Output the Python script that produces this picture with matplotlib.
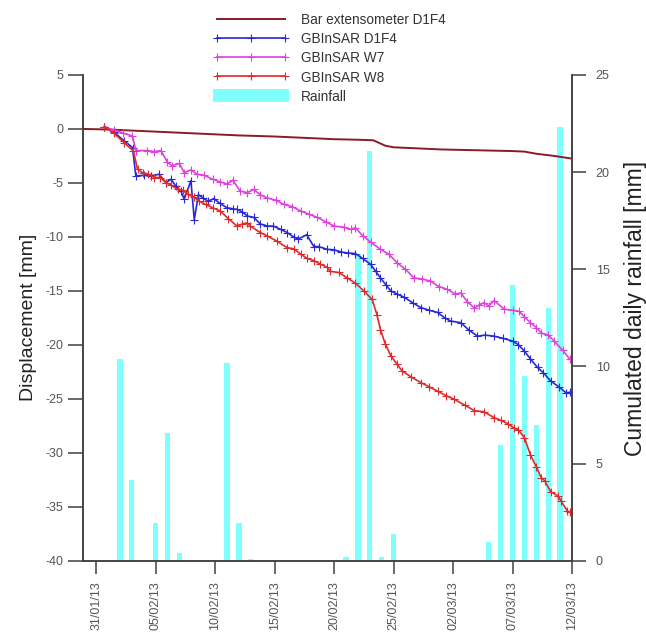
import numpy as np
import pandas as pd
import matplotlib
matplotlib.use("Agg")
import matplotlib.pyplot as plt
import matplotlib.dates as mdates
from datetime import datetime, timedelta

plt.rcParams['font.family'] = ['Liberation Sans', 'DejaVu Sans']
plt.rcParams['axes.unicode_minus'] = False

# days counted from 31/01/13 00:00
BASE = datetime(2013, 1, 31)

ext_days = [-1.1, 1, 3, 6, 9, 12, 15, 18, 20, 22, 23.3, 23.8, 24.3, 25, 27, 29, 31, 33, 35, 36, 37, 38.5, 40]
ext_mm = [0.0, -0.05, -0.15, -0.3, -0.45, -0.6, -0.7, -0.85, -0.95, -1.0, -1.05, -1.3, -1.55, -1.7,
          -1.8, -1.9, -1.95, -2.0, -2.05, -2.1, -2.3, -2.5, -2.75]

d1f4_days = [0.7, 1.5, 2.36, 3.06, 3.34, 4.0, 4.6, 5.3, 5.87, 6.3, 6.7, 7.13, 7.4, 7.97, 8.25, 8.6, 9.0,
             9.4, 9.9, 10.4, 11.0, 11.5, 11.85, 12.3, 12.7, 13.25, 13.8, 14.4, 14.9, 15.5, 16.06, 16.6,
             17.0, 17.7, 18.3, 18.7, 19.4, 20.0, 20.6, 21.2, 21.8, 22.4, 23.07, 23.5, 23.9, 24.4, 24.76,
             25.3, 25.9, 26.6, 27.3, 28.0, 28.7, 29.3, 29.8, 30.65, 31.3, 32.05, 32.7, 33.45, 34.2, 35.0,
             35.5, 36.0, 36.5, 37.1, 37.6, 38.2, 38.9, 39.5, 39.8]
d1f4_mm = [0.2, -0.3, -1.1, -1.73, -4.36, -4.3, -4.36, -4.2, -4.97, -4.66, -5.3, -5.75, -6.5, -4.8, -8.4,
           -6.1, -6.4, -6.7, -6.45, -6.9, -7.3, -7.4, -7.45, -7.7, -8.06, -8.2, -8.8, -9.0, -9.0, -9.3,
           -9.6, -10.0, -10.2, -9.8, -10.9, -10.9, -11.15, -11.2, -11.4, -11.5, -11.55, -12.0, -12.54,
           -13.2, -13.8, -14.5, -15.0, -15.3, -15.6, -16.1, -16.55, -16.8, -17.0, -17.5, -17.8, -17.95,
           -18.6, -19.2, -19.1, -19.2, -19.4, -19.65, -20.0, -20.6, -21.3, -22.1, -22.6, -23.35, -23.9,
           -24.45, -24.4]

w7_days = [0.7, 1.5, 2.3, 3.05, 3.35, 4.3, 4.9, 5.45, 6.0, 6.4, 7.0, 7.4, 7.97, 8.5, 9.1, 9.8, 10.4, 11.0,
           11.5, 12.1, 12.7, 13.25, 13.8, 14.4, 15.1, 15.8, 16.5, 17.2, 17.9, 18.6, 19.3, 20.0, 20.8, 21.4,
           21.8, 22.4, 23.1, 23.9, 24.6, 25.3, 26.0, 26.7, 27.4, 28.1, 28.8, 29.5, 30.2, 30.65, 31.2, 31.8,
           32.2, 32.6, 33.0, 33.45, 34.3, 35.0, 35.56, 36.0, 36.5, 37.0, 37.4, 38.0, 38.5, 39.2, 39.8]
w7_mm = [0.2, -0.1, -0.4, -0.65, -2.0, -2.0, -2.1, -2.0, -3.1, -3.4, -3.2, -4.05, -3.8, -4.2, -4.3, -4.66,
         -4.9, -5.1, -4.75, -5.75, -5.9, -5.6, -6.1, -6.4, -6.6, -7.0, -7.2, -7.6, -7.9, -8.2, -8.6, -9.0,
         -9.1, -9.3, -9.15, -9.9, -10.5, -11.15, -11.6, -12.4, -13.0, -13.8, -13.9, -14.1, -14.6, -14.85,
         -15.3, -15.2, -16.0, -16.6, -16.3, -16.1, -16.4, -15.9, -16.7, -16.8, -16.9, -17.4, -17.95, -18.4,
         -18.9, -19.1, -19.65, -20.5, -21.3]

w8_days = [0.7, 1.5, 2.36, 3.14, 3.48, 3.9, 4.4, 4.9, 5.4, 5.87, 6.3, 6.85, 7.3, 7.7, 8.2, 8.67, 9.2, 9.8,
           10.44, 11.1, 11.85, 12.3, 12.7, 12.97, 13.8, 14.37, 15.2, 16.06, 16.6, 17.2, 17.74, 18.3, 18.8,
           19.4, 19.7, 20.4, 21.1, 21.8, 22.5, 23.2, 23.6, 23.9, 24.3, 24.76, 25.3, 25.7, 26.5, 27.3, 28.0,
           28.7, 29.4, 30.1, 31.0, 31.8, 32.6, 33.45, 34.0, 34.6, 35.1, 35.5, 36.0, 36.5, 37.0, 37.4, 37.7,
           38.2, 38.8, 39.1, 39.6, 39.8]
w8_mm = [0.2, -0.4, -1.27, -2.04, -3.74, -4.05, -4.2, -4.5, -4.5, -4.97, -5.2, -5.6, -5.7, -6.05, -6.3,
         -6.7, -7.0, -7.3, -7.6, -8.3, -9.0, -8.8, -8.7, -9.0, -9.6, -9.9, -10.4, -11.0, -11.1, -11.6, -12.0,
         -12.2, -12.5, -12.8, -13.2, -13.3, -13.8, -14.3, -15.0, -15.8, -17.2, -18.6, -19.9, -21.0, -21.8,
         -22.4, -23.0, -23.5, -23.9, -24.3, -24.7, -25.05, -25.6, -26.1, -26.2, -26.75, -27.0, -27.3, -27.7,
         -27.9, -28.6, -30.2, -31.3, -32.3, -32.6, -33.6, -34.0, -34.5, -35.4, -35.5]

rain_dates = ["2013-02-02", "2013-02-03", "2013-02-05", "2013-02-06", "2013-02-07", "2013-02-11",
              "2013-02-12", "2013-02-13", "2013-02-21", "2013-02-22", "2013-02-23", "2013-02-24",
              "2013-02-25", "2013-03-05", "2013-03-06", "2013-03-07", "2013-03-08", "2013-03-09",
              "2013-03-10", "2013-03-11"]
rain_mm = [10.4, 4.15, 1.95, 6.55, 0.4, 10.15, 1.95, 0.1, 0.2, 15.8, 21.1, 0.2, 1.35, 0.95, 5.95, 14.2,
           9.5, 7.0, 13.0, 22.3]


def to_dates(days):
    return [BASE + timedelta(days=float(d)) for d in days]


GREY = '#404040'
fig = plt.figure(figsize=(6.46, 6.37), dpi=100)
ax = fig.add_axes([0.1285, 0.1198, 0.757, 0.7625])
ax2 = ax.twinx()

# rainfall bars on the twin axis, behind the displacement lines
ax2.bar(pd.to_datetime(rain_dates), rain_mm, width=0.45, color='#80FFFF', label='Rainfall')
ax2.set_ylim(0, 25)
ax2.set_yticks([0, 5, 10, 15, 20, 25])
ax2.set_ylabel('Cumulated daily rainfall [mm]', fontsize=16.5, color='#222222', labelpad=10)
ax2.yaxis.label.set_y(0.52)

ax.set_zorder(ax2.get_zorder() + 1)
ax.patch.set_visible(False)

mk = dict(marker='+', markersize=6, markeredgewidth=0.8, linewidth=1.2)
ax.plot(to_dates(ext_days), ext_mm, color='#8B1A2A', linewidth=1.4, label='Bar extensometer D1F4')
ax.plot(to_dates(d1f4_days), d1f4_mm, color='#2828D8', label='GBInSAR D1F4', **mk)
ax.plot(to_dates(w7_days), w7_mm, color='#E040E0', label='GBInSAR W7', **mk)
ax.plot(to_dates(w8_days), w8_mm, color='#E02A2A', label='GBInSAR W8', **mk)

ax.set_ylim(-40, 5)
ax.set_yticks(np.arange(-40, 6, 5))
ax.set_xlim(BASE - timedelta(days=1.1), BASE + timedelta(days=40))
ax.set_xticks([BASE + timedelta(days=5 * k) for k in range(9)])
ax.xaxis.set_major_formatter(mdates.DateFormatter('%d/%m/%y'))
ax.set_ylabel('Displacement [mm]', fontsize=14, color='#222222', labelpad=6)

for a in (ax, ax2):
    a.spines['top'].set_visible(False)
    for s in ('left', 'right', 'bottom'):
        a.spines[s].set_color(GREY)
        a.spines[s].set_linewidth(1.1)

ax.tick_params(axis='y', direction='out', length=11, width=1.1, color=GREY, labelcolor='#555555',
               labelsize=9, pad=3)
ax.tick_params(axis='x', direction='out', length=9.5, width=1.1, color=GREY, labelcolor='#555555',
               labelsize=9, pad=5, labelrotation=90)
ax2.tick_params(axis='y', direction='out', length=10, width=1.1, color=GREY, labelcolor='#555555',
                labelsize=9, pad=7)

h1, l1 = ax.get_legend_handles_labels()
h2, l2 = ax2.get_legend_handles_labels()
leg = fig.legend(h1 + h2, l1 + l2, loc='upper left', bbox_to_anchor=(0.319, 0.99), frameon=False,
                 fontsize=9.8, handlelength=5.6, handleheight=1.1, labelspacing=0.36, borderpad=0,
                 handletextpad=0.85, numpoints=3)
for t in leg.get_texts():
    t.set_color('#333333')

fig.savefig('out.png', dpi=100)
